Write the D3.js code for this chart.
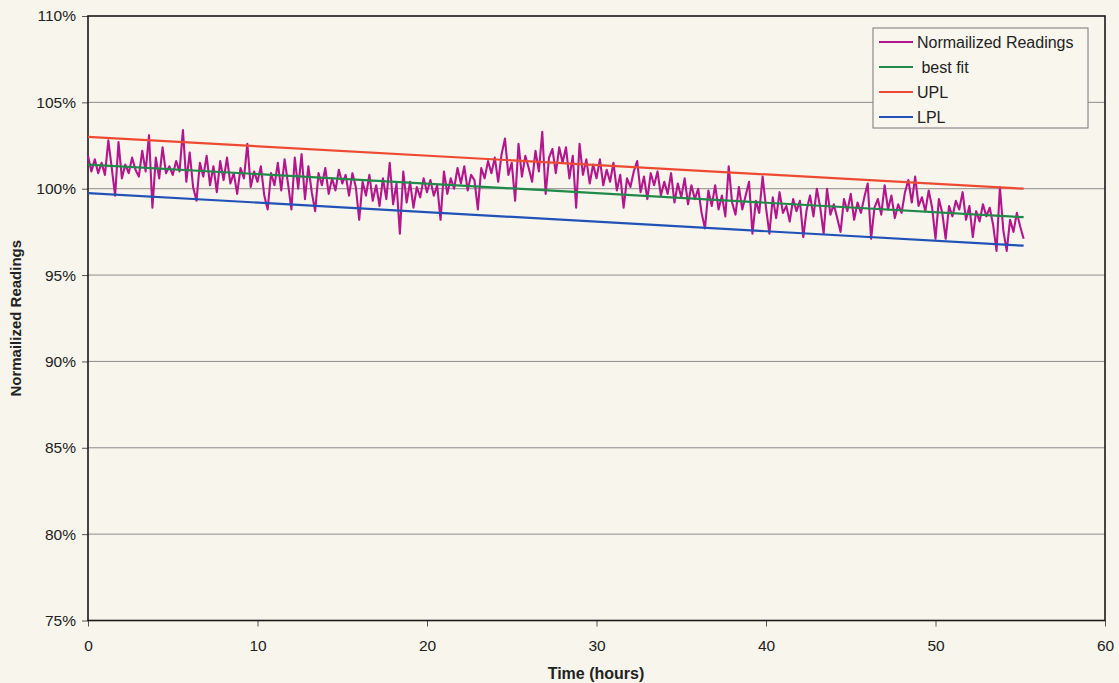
<!DOCTYPE html>
<html>
<head>
<meta charset="utf-8">
<script src="https://cdn.jsdelivr.net/npm/d3@7"></script>
<style>
  html, body { margin: 0; padding: 0; background: #f8f5ec; }
  svg { display: block; }
  text { font-family: "Liberation Sans", Arial, sans-serif; fill: #222; }
</style>
</head>
<body>
<svg id="chart" width="1119" height="683"></svg>
<script>
// Normalized readings sampled every 0.2 h, starting at t = 0
const sampleStep = 0.2;
const readings = [
  101.9, 101.0, 101.7, 100.9, 101.5, 100.8, 102.8, 101.2, 99.6, 102.7,
  100.6, 101.4, 100.9, 101.8, 101.1, 100.7, 102.2, 101.0, 103.1, 98.9,
  101.8, 100.6, 102.4, 100.9, 101.3, 100.8, 101.6, 101.0, 103.4, 100.4,
  102.1, 100.1, 99.3, 101.5, 100.7, 101.9, 100.2, 101.3, 99.8, 101.6,
  100.5, 101.8, 100.3, 100.9, 99.7, 101.2, 100.6, 102.6, 100.1, 101.0,
  100.4, 101.3, 99.6, 98.8, 100.9, 100.2, 101.5, 99.9, 101.7, 100.3,
  98.8, 101.8, 100.0, 102.0, 99.4, 101.3, 99.8, 98.7, 100.9, 100.2,
  101.2, 99.7, 100.6, 99.9, 101.1, 100.3, 100.8, 99.6, 100.9, 100.1,
  98.2, 100.4, 99.6, 100.8, 99.3, 100.2, 99.0, 100.6, 99.4, 101.5,
  99.1, 100.3, 97.4, 101.0, 99.2, 100.4, 98.9, 100.1, 99.5, 100.6,
  99.8, 100.5, 99.6, 100.2, 98.2, 101.0, 99.7, 100.6, 100.0, 101.2,
  100.3, 101.3, 99.9, 100.8, 100.5, 98.8, 101.2, 100.6, 101.6, 100.9,
  101.8, 100.4, 102.0, 102.9, 100.8, 101.5, 99.3, 102.6, 100.7, 101.9,
  101.2, 100.4, 102.2, 101.0, 103.3, 99.7, 101.8, 102.3, 100.9, 102.4,
  101.5, 102.4, 100.6, 101.9, 98.9, 102.6, 100.8, 101.7, 100.3, 101.4,
  100.6, 101.7, 100.2, 101.1, 100.4, 101.5, 99.9, 100.8, 98.9, 100.6,
  100.1, 101.0, 101.6, 99.8, 100.7, 99.4, 100.9, 100.2, 101.0, 99.6,
  100.4, 99.7, 100.9, 99.2, 100.3, 99.5, 100.6, 99.1, 100.2, 99.4,
  100.0, 98.6, 97.7, 99.9, 99.0, 100.2, 98.8, 99.6, 98.4, 101.3,
  99.2, 98.5, 100.1, 98.8, 99.6, 100.4, 97.4, 99.3, 98.6, 100.7,
  98.9, 97.4, 99.5, 98.3, 99.8, 98.6, 99.0, 98.1, 99.4, 98.7,
  99.3, 97.2, 98.8, 99.6, 98.4, 100.0, 98.9, 97.4, 100.0, 98.5,
  99.1, 98.3, 97.5, 99.4, 98.7, 99.7, 98.2, 99.2, 98.6, 99.5,
  100.3, 97.1, 98.9, 99.4, 98.5, 100.2, 98.8, 99.6, 98.3, 99.1,
  98.6, 99.8, 100.5, 99.2, 100.7, 99.0, 99.5, 98.7, 99.9, 98.9,
  97.1, 99.4, 98.6, 97.1, 99.0, 98.4, 99.3, 98.8, 99.8, 98.2,
  99.0, 97.2, 98.7, 98.1, 99.1, 98.4, 98.9, 97.9, 96.4, 100.1,
  97.6, 96.4, 98.2, 97.5, 98.6, 97.8, 97.1
];

// Straight-line fit and prediction limits (endpoints, in hours and %)
const fitTimes = [0, 55.2];
const bestFit = [101.4, 98.35];
const upl = [103.0, 100.0];
const lpl = [99.75, 96.7];

// Axis ticks
const xTicks = [0, 10, 20, 30, 40, 50, 60];
const yTicks = [75, 80, 85, 90, 95, 100, 105, 110];

const legendItems = [
  { label: "Normailized Readings", color: "#b3168c" },
  { label: "\u00a0best fit", color: "#1f8a4a" },
  { label: "UPL", color: "#ee4a33" },
  { label: "LPL", color: "#2152b8" }
];

const svg = d3.select("#chart");
const plotLeft = 88, plotRight = 1105, plotTop = 16, plotBottom = 620.5;

const x = d3.scaleLinear().domain([0, 60]).range([plotLeft, plotRight]);
const y = d3.scaleLinear().domain([75, 110]).range([plotBottom, plotTop]);

// Horizontal gridlines
svg.append("g")
  .selectAll("line")
  .data(yTicks.filter(v => v > 75 && v < 110))
  .join("line")
  .attr("x1", plotLeft).attr("x2", plotRight)
  .attr("y1", d => y(d)).attr("y2", d => y(d))
  .attr("stroke", "#8c8c8c")
  .attr("stroke-width", 1);

// Y axis
const yAxis = svg.append("g")
  .attr("transform", `translate(${plotLeft},0)`)
  .call(d3.axisLeft(y).tickValues(yTicks).tickFormat(d => d + "%").tickSize(6).tickPadding(6));
yAxis.select(".domain").remove();
yAxis.selectAll(".tick line").attr("stroke", "#555");
yAxis.selectAll(".tick text").attr("font-size", 15.5).attr("fill", "#2a2a2a")
  .attr("font-family", "Liberation Sans, Arial, sans-serif");

// X axis
const xAxis = svg.append("g")
  .attr("transform", `translate(0,${plotBottom})`)
  .call(d3.axisBottom(x).tickValues(xTicks).tickSize(6).tickPadding(13));
xAxis.select(".domain").remove();
xAxis.selectAll(".tick line").attr("stroke", "#555");
xAxis.selectAll(".tick text").attr("font-size", 15.5).attr("fill", "#2a2a2a")
  .attr("font-family", "Liberation Sans, Arial, sans-serif");

// Plot frame
svg.append("rect")
  .attr("x", plotLeft).attr("y", plotTop)
  .attr("width", plotRight - plotLeft).attr("height", plotBottom - plotTop)
  .attr("fill", "none")
  .attr("stroke", "#1a1a1a")
  .attr("stroke-width", 1.6);

// Series
const readingPoints = readings.map((v, i) => [i * sampleStep, v]);
const line = d3.line().x(d => x(d[0])).y(d => y(d[1]));

svg.append("path")
  .datum(readingPoints)
  .attr("d", line)
  .attr("fill", "none")
  .attr("stroke", legendItems[0].color)
  .attr("stroke-width", 2.1)
  .attr("stroke-linejoin", "round");

const fitSeries = [
  { values: bestFit, color: legendItems[1].color },
  { values: upl, color: legendItems[2].color },
  { values: lpl, color: legendItems[3].color }
];
fitSeries.forEach(s => {
  svg.append("path")
    .datum(fitTimes.map((t, i) => [t, s.values[i]]))
    .attr("d", line)
    .attr("fill", "none")
    .attr("stroke", s.color)
    .attr("stroke-width", 2.2);
});

// Axis titles
svg.append("text")
  .attr("x", 596).attr("y", 679)
  .attr("text-anchor", "middle")
  .attr("font-size", 16).attr("font-weight", "bold")
  .text("Time (hours)");

svg.append("text")
  .attr("transform", `translate(21,${(plotTop + plotBottom) / 2}) rotate(-90)`)
  .attr("text-anchor", "middle")
  .attr("font-size", 15).attr("font-weight", "bold")
  .text("Normailized Readings");

// Legend
const legend = svg.append("g").attr("transform", "translate(873,28)");
legend.append("rect")
  .attr("width", 215).attr("height", 100)
  .attr("fill", "#f9f6ee")
  .attr("stroke", "#777")
  .attr("stroke-width", 1);
legendItems.forEach((item, i) => {
  const cy = 14 + i * 25;
  legend.append("line")
    .attr("x1", 6).attr("x2", 40)
    .attr("y1", cy).attr("y2", cy)
    .attr("stroke", item.color)
    .attr("stroke-width", 2);
  legend.append("text")
    .attr("x", 44).attr("y", cy + 5.5)
    .attr("font-size", 16)
    .text(item.label);
});
</script>
</body>
</html>
